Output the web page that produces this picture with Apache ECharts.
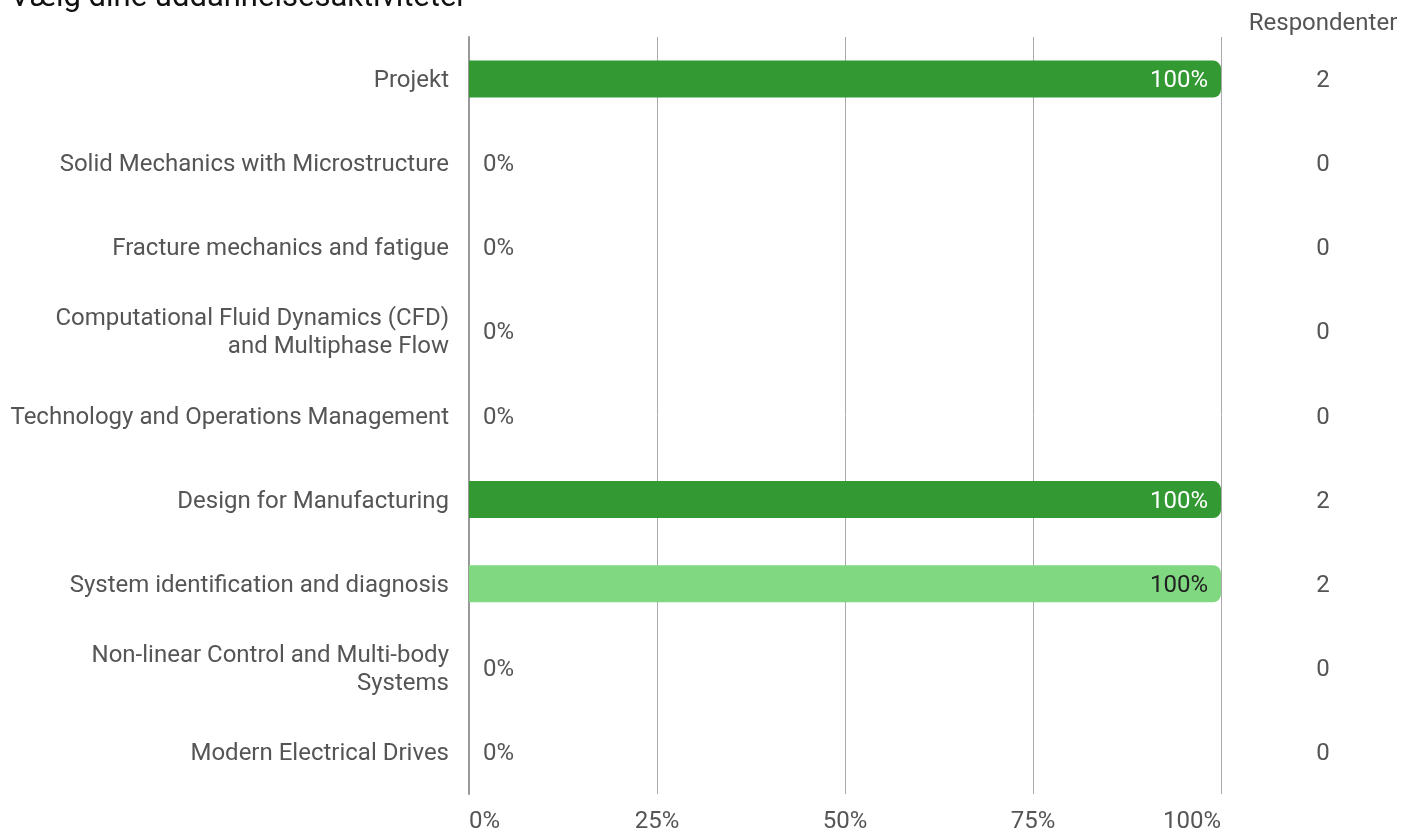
<!DOCTYPE html>
<html>
<head>
<meta charset="utf-8">
<script src="https://cdn.jsdelivr.net/npm/echarts@6/dist/echarts.min.js"></script>
<style>
html,body{margin:0;padding:0;background:#fff;}
#chart{width:1401px;height:834px;}
</style>
</head>
<body>
<div id="chart"></div>
<script>
const titleText = 'Vælg dine uddannelsesaktiviteter';
const categories = [
  'Projekt',
  'Solid Mechanics with Microstructure',
  'Fracture mechanics and fatigue',
  'Computational Fluid Dynamics (CFD)\nand Multiphase Flow',
  'Technology and Operations Management',
  'Design for Manufacturing',
  'System identification and diagnosis',
  'Non-linear Control and Multi-body\nSystems',
  'Modern Electrical Drives'
];
const percentValues = [100, 0, 0, 0, 0, 100, 100, 0, 0];
const respondents = [2, 0, 0, 0, 0, 2, 2, 0, 0];
const xTicks = [0, 25, 50, 75, 100];
const respondentHeader = 'Respondenter';
const lightCategory = 'System identification and diagnosis';

const FONT = 'Roboto, "Noto Sans", sans-serif';
const DARK = '#339933';
const LIGHT = '#80d980';

const shiftRich = { t: { fontSize: 24, color: '#555', fontFamily: FONT, lineHeight: 28, padding: [4, 0, 0, 0] } };
const wrapRich = (s) => String(s).split('\n').map(l => '{t|' + l + '}').join('\n');

const seriesData = percentValues.map((v, i) => {
  const isLight = categories[i] === lightCategory;
  const zero = v === 0;
  return {
    value: v,
    itemStyle: { color: isLight ? LIGHT : DARK },
    label: zero
      ? { position: 'right', distance: 14, color: '#555', offset: [0, 2] }
      : { position: 'insideRight', distance: 13, color: isLight ? '#222' : '#fff', offset: [0, 2] }
  };
});

const chart = echarts.init(document.getElementById('chart'));
chart.setOption({
  animation: false,
  backgroundColor: '#fff',
  textStyle: { fontFamily: FONT },
  title: {
    text: titleText,
    left: 10,
    top: -17,
    padding: 0,
    textStyle: { fontFamily: FONT, fontSize: 31, fontWeight: 'normal', color: '#111' }
  },
  graphic: [{
    type: 'text',
    x: 1323,
    y: 24,
    style: { text: respondentHeader, font: '24px ' + FONT, fill: '#555', align: 'center', verticalAlign: 'middle' }
  }],
  grid: { left: 469, right: 180, top: 37, bottom: 38, containLabel: false },
  xAxis: {
    type: 'value',
    min: xTicks[0],
    max: xTicks[xTicks.length - 1],
    interval: xTicks[1] - xTicks[0],
    axisLine: { show: false },
    axisTick: { show: false },
    axisLabel: { formatter: '{value}%', fontSize: 24, color: '#555', margin: 16, fontFamily: FONT,
                 alignMinLabel: 'left', alignMaxLabel: 'right' },
    splitLine: { show: true, lineStyle: { color: '#aaa', width: 1 } }
  },
  yAxis: [{
    type: 'category',
    inverse: true,
    data: categories,
    axisLine: { show: true, lineStyle: { color: '#999', width: 2 } },
    axisTick: { show: false },
    axisLabel: { fontSize: 24, color: '#555', margin: 20, lineHeight: 28, fontFamily: FONT,
                 formatter: wrapRich, rich: shiftRich }
  }, {
    type: 'category',
    inverse: true,
    position: 'right',
    data: respondents.map(String),
    axisLine: { show: false },
    axisTick: { show: false },
    axisLabel: { fontSize: 24, color: '#555', margin: 102, align: 'center', fontFamily: FONT,
                 formatter: wrapRich, rich: shiftRich }
  }],
  series: [{
    type: 'bar',
    yAxisIndex: 0,
    data: seriesData,
    barWidth: 37,
    itemStyle: { borderRadius: [0, 8, 8, 0] },
    label: { show: true, formatter: '{c}%', fontSize: 24, fontFamily: FONT }
  }]
});
</script>
</body>
</html>
